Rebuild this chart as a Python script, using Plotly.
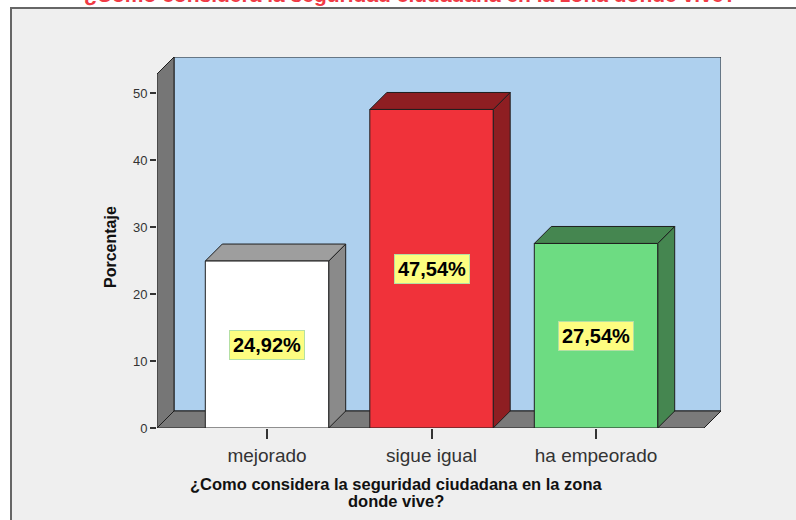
import plotly.graph_objects as go

categories = ["mejorado", "sigue igual", "ha empeorado"]
values = [24.92, 47.54, 27.54]
labels = ["24,92%", "47,54%", "27,54%"]
front_colors = ["#ffffff", "#f0323a", "#6ddc82"]
top_colors = ["#9e9e9e", "#8e1e22", "#458650"]
side_colors = ["#8a8a8a", "#8e1e22", "#458650"]
y_ticks = [0, 10, 20, 30, 40, 50]

title_text = "¿Como considera la seguridad ciudadana en la zona donde vive?"
x_title_lines = ["¿Como considera la seguridad ciudadana en la zona", "donde vive?"]
y_title = "Porcentaje"

W, H = 796, 520
L, R, T, B = 157, 721, 57, 428
px_per_cat = 164.5
px_per_unit = 6.7
depth_px = 17

x_min = -(267 - L) / px_per_cat
x_max = x_min + (R - L) / px_per_cat
y_max = (B - T) / px_per_unit
dx = depth_px / px_per_cat
dy = depth_px / px_per_unit
bw = 0.75

FONT = "Liberation Sans, Arial, sans-serif"
OUT = "#1e1e1e"


def poly(xs, ys, fill, width=1):
    return go.Scatter(x=xs + [xs[0]], y=ys + [ys[0]], mode="lines", fill="toself",
                      fillcolor=fill, line=dict(color=OUT, width=width),
                      hoverinfo="skip", showlegend=False)


def pxx(p):
    return (p - L) / (R - L)


def pxy(p):
    return (B - p) / (B - T)


fig = go.Figure()

# back wall
fig.add_trace(poly([x_min + dx, x_max, x_max, x_min + dx], [dy, dy, y_max, y_max], "#aed0ee"))
# left side wall
fig.add_trace(poly([x_min, x_min, x_min + dx, x_min + dx], [0, y_max - dy, y_max, dy], "#767676"))
# floor
fig.add_trace(poly([x_min, x_min + dx, x_max, x_max - dx], [0, dy, dy, 0], "#7a7a7a"))

for i, v in enumerate(values):
    x0, x1 = i - bw / 2, i + bw / 2
    # side face
    fig.add_trace(poly([x1, x1, x1 + dx, x1 + dx], [0, v, v + dy, dy], side_colors[i]))
    # top face
    fig.add_trace(poly([x0, x0 + dx, x1 + dx, x1], [v, v + dy, v + dy, v], top_colors[i]))
    # front face
    fig.add_trace(poly([x0, x1, x1, x0], [0, 0, v, v], front_colors[i]))
    fig.add_annotation(x=i, y=v / 2, xref="x", yref="y", text="<b>%s</b>" % labels[i],
                       showarrow=False, bgcolor="#fdfd80", bordercolor="#b4e0a4",
                       borderwidth=1, borderpad=3,
                       font=dict(family=FONT, size=20, color="#000000"))

# outer frame
fig.add_shape(type="rect", xref="paper", yref="paper",
              x0=pxx(11), x1=pxx(820), y0=pxy(8), y1=pxy(540),
              fillcolor="#efefef", line=dict(color="#666666", width=2), layer="below")

# top (clipped) title
fig.add_annotation(x=pxx(410), y=pxy(-6), xref="paper", yref="paper",
                   text="<b>%s</b>" % title_text, showarrow=False,
                   xanchor="center", yanchor="middle",
                   font=dict(family=FONT, size=21, color="#f03a45"))

# axis titles
for yy, line in zip([484, 501], x_title_lines):
    fig.add_annotation(x=pxx(396), y=pxy(yy), xref="paper", yref="paper",
                       text="<b>%s</b>" % line, showarrow=False,
                       xanchor="center", yanchor="middle",
                       font=dict(family=FONT, size=16.5, color="#111111"))
fig.add_annotation(x=pxx(110), y=pxy(247), xref="paper", yref="paper",
                   text="<b>%s</b>" % y_title, showarrow=False, textangle=-90,
                   xanchor="center", yanchor="middle",
                   font=dict(family=FONT, size=16, color="#111111"))

fig.update_xaxes(range=[x_min, x_max], tickvals=list(range(len(categories))),
                 ticktext=categories, ticks="outside", ticklen=10, tickcolor="#333333",
                 tickwidth=2, showgrid=False, zeroline=False, showline=False,
                 tickfont=dict(family=FONT, size=19, color="#333333"), fixedrange=True)
fig.update_yaxes(range=[0, y_max], tickvals=y_ticks, ticks="outside", ticklen=6,
                 tickcolor="#333333", tickwidth=2, showgrid=False, zeroline=False,
                 showline=False, tickfont=dict(family=FONT, size=13, color="#333333"),
                 fixedrange=True)

fig.update_layout(width=W, height=H, margin=dict(l=L, r=W - R, t=T, b=H - B, pad=0),
                  paper_bgcolor="#ffffff", plot_bgcolor="rgba(0,0,0,0)",
                  showlegend=False)

fig.write_html("out.html", config={"displayModeBar": False},
               post_script="document.body.style.margin='0';")
